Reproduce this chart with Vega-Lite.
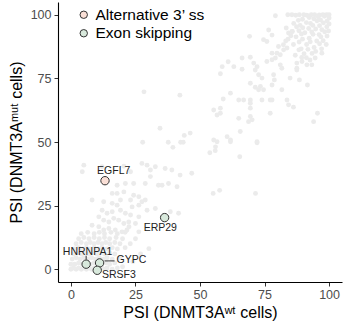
{
  "$schema": "https://vega.github.io/schema/vega-lite/v6.json",
  "width": 284,
  "height": 280,
  "autosize": {"type": "none"},
  "padding": {"left": 58, "top": 2, "right": 2, "bottom": 43},
  "background": "white",
  "config": {
    "view": {"stroke": null},
    "font": "Liberation Sans",
    "axis": {
      "grid": false,
      "domainColor": "#000000",
      "domainWidth": 1.1,
      "tickColor": "#333333",
      "tickSize": 4,
      "labelColor": "#4d4d4d",
      "labelFontSize": 12.5,
      "labelFont": "Liberation Sans",
      "titleFont": "Liberation Sans",
      "titleFontSize": 16,
      "titleFontWeight": "normal",
      "titleColor": "#000000"
    }
  },
  "datasets": {
    "bg": [
      {"x":0,"y":0},{"x":1,"y":0.5},{"x":2,"y":0},{"x":3,"y":0.5},{"x":4,"y":0},{"x":5,"y":0.5},{"x":6,"y":0},{"x":7,"y":0.5},{"x":8,"y":0},{"x":9,"y":0.5},{"x":11,"y":0},{"x":12,"y":0.5},{"x":13,"y":0},{"x":14,"y":0.5},{"x":16,"y":0},{"x":18,"y":0.5},
      {"x":0,"y":2},{"x":1.5,"y":2},{"x":3,"y":2.5},{"x":4.5,"y":2},{"x":6,"y":2.5},{"x":7.5,"y":2},{"x":9,"y":2.5},{"x":12,"y":2},{"x":13.5,"y":2.5},{"x":15,"y":2},{"x":17,"y":2.5},
      {"x":0.5,"y":4},{"x":2,"y":4.5},{"x":3.5,"y":4},{"x":5,"y":4.5},{"x":6.5,"y":4},{"x":8,"y":4.5},{"x":9.5,"y":4},{"x":11,"y":4.5},{"x":12.5,"y":4},{"x":14,"y":4.5},{"x":16,"y":4},{"x":19,"y":4.5},
      {"x":1,"y":6},{"x":2.5,"y":6.5},{"x":4,"y":6},{"x":5.5,"y":6.5},{"x":7,"y":6},{"x":8.5,"y":6.5},{"x":10,"y":6},{"x":11.5,"y":6.5},{"x":13,"y":6},{"x":15,"y":6.5},{"x":17,"y":6},
      {"x":1.5,"y":8},{"x":3,"y":8.5},{"x":4.5,"y":8},{"x":6,"y":8.5},{"x":7.5,"y":8},{"x":9,"y":8.5},{"x":10.5,"y":8},{"x":12,"y":8.5},{"x":14,"y":8},{"x":16,"y":8.5},{"x":18,"y":8},{"x":21,"y":8.5},
      {"x":2,"y":10},{"x":4,"y":10.5},{"x":6,"y":10},{"x":7.5,"y":10.5},{"x":9,"y":10},{"x":10.5,"y":10.5},{"x":12,"y":10},{"x":13.5,"y":10.5},{"x":15,"y":10},{"x":17,"y":10.5},{"x":19,"y":10},
      {"x":3,"y":12},{"x":5,"y":12.5},{"x":7,"y":12},{"x":9,"y":12.5},{"x":11,"y":12},{"x":13,"y":12.5},{"x":15,"y":12},{"x":17.5,"y":12.5},{"x":20,"y":12},
      {"x":4,"y":14},{"x":6.5,"y":14.5},{"x":9,"y":14},{"x":11,"y":14.5},{"x":13,"y":14},{"x":15.5,"y":14.5},{"x":18,"y":14},{"x":21,"y":14.5},
      {"x":22.5,"y":16.7},{"x":30.2,"y":8.1},{"x":25,"y":12},{"x":23,"y":10},{"x":24,"y":3},{"x":20,"y":1},{"x":27,"y":6},
      {"x":4.4,"y":38.3},{"x":5,"y":40.9},{"x":12.1,"y":40.3},{"x":20.5,"y":40.5},{"x":23.1,"y":38.3},{"x":27.5,"y":41.6},{"x":29.5,"y":40.9},{"x":30.8,"y":39},{"x":32.7,"y":40.3},{"x":30.8,"y":36.4},{"x":36.5,"y":39.6},{"x":39.1,"y":39},{"x":42.3,"y":37},{"x":46.8,"y":37.7},{"x":35.3,"y":33},{"x":37.8,"y":33.7},{"x":41.1,"y":32.4},{"x":17.9,"y":33},{"x":21.1,"y":33.7},{"x":24.3,"y":33.7},{"x":28.8,"y":33.7},{"x":33.9,"y":33},{"x":16,"y":29.8},{"x":17.9,"y":29.8},{"x":20.5,"y":30.4},{"x":24.3,"y":29.1},{"x":26.3,"y":28.5},{"x":27.5,"y":26.5},{"x":28.8,"y":27.2},{"x":8.2,"y":27.2},{"x":12.7,"y":26.5},{"x":16,"y":25.9},{"x":17.9,"y":25.2},{"x":19.2,"y":27.2},{"x":23.1,"y":27.2},{"x":23.7,"y":24.5},{"x":26.3,"y":25.2},{"x":29.5,"y":23.2},{"x":32.7,"y":23.9},{"x":38.5,"y":22.6},{"x":41.7,"y":22},{"x":12.1,"y":23.2},{"x":14,"y":22},{"x":16,"y":22.6},{"x":19.2,"y":23.2},{"x":21.1,"y":22},{"x":23.1,"y":21.3},{"x":26.3,"y":20.6},{"x":10.8,"y":20.6},{"x":12.7,"y":19.3},{"x":14.7,"y":18.6},{"x":16.6,"y":20},{"x":18.5,"y":19.3},{"x":20.5,"y":18},{"x":22.4,"y":18.6},{"x":25,"y":18},{"x":8.2,"y":17.3},{"x":10.8,"y":16.7},{"x":12.7,"y":15.4},{"x":14.7,"y":16},{"x":17.2,"y":15.4},{"x":19.8,"y":14.7},{"x":21.7,"y":15.4},{"x":26.3,"y":14.7},
      {"x":28.3,"y":69.7},{"x":42.2,"y":68.4},{"x":34.5,"y":55.4},{"x":27.8,"y":49.9},{"x":37.7,"y":49.9},{"x":39.5,"y":47.9},{"x":42.5,"y":49.9},{"x":43.5,"y":49.9},{"x":43.9,"y":52.6},{"x":46.2,"y":53.5},{"x":53.8,"y":45.8},{"x":55.9,"y":46.6},{"x":65.4,"y":44.2},{"x":55.1,"y":29.8},{"x":57.6,"y":31},{"x":71.5,"y":29.8},{"x":55.3,"y":50.8},{"x":61.8,"y":50.8},{"x":72.1,"y":49.7},
      {"x":79.2,"y":99.6},{"x":69.2,"y":91.5},{"x":76.6,"y":94},{"x":77.9,"y":92},{"x":74.6,"y":90.2},{"x":75.9,"y":89.5},{"x":83.4,"y":94.8},{"x":84.3,"y":92.8},{"x":85.6,"y":93.4},{"x":80.4,"y":87.5},{"x":82.4,"y":86.2},{"x":83.7,"y":86.9},{"x":77.9,"y":84.9},{"x":79.8,"y":84.9},{"x":81.1,"y":84.3},{"x":97.2,"y":84.9},{"x":94.6,"y":83},{"x":60.9,"y":81.5},{"x":58.6,"y":79.6},{"x":63.1,"y":79.6},{"x":66.3,"y":78.6},{"x":66.3,"y":83},{"x":69.5,"y":83.3},{"x":70.8,"y":81},{"x":72.1,"y":79.6},{"x":71.4,"y":78.3},{"x":75.9,"y":81.6},{"x":77.9,"y":82.3},{"x":79.2,"y":83},{"x":81.1,"y":80.3},{"x":81.7,"y":79},{"x":87.5,"y":81},{"x":87.5,"y":79},{"x":87.5,"y":78.3},{"x":89.5,"y":81.6},{"x":91.4,"y":80.3},{"x":93.3,"y":80.3},{"x":57.9,"y":76.8},{"x":72.7,"y":76.4},{"x":74,"y":75.1},{"x":78.5,"y":76.4},{"x":78.8,"y":74.4},{"x":84.9,"y":75.1},{"x":88.5,"y":74.4},{"x":69.5,"y":73.1},{"x":71.4,"y":71.5},{"x":73.4,"y":71.8},{"x":74.6,"y":70.5},{"x":72.7,"y":70.5},{"x":77.9,"y":72.4},{"x":81.7,"y":70.5},{"x":91.6,"y":72.4},{"x":59,"y":66.9},{"x":61.8,"y":69.2},{"x":65,"y":66.5},{"x":66.9,"y":66.5},{"x":69.5,"y":66.5},{"x":69.5,"y":65.2},{"x":74,"y":66.5},{"x":77.2,"y":66.5},{"x":77.9,"y":66.5},{"x":83.7,"y":66.5},{"x":84.3,"y":64.6},{"x":86.2,"y":63.7},{"x":69.5,"y":63.3},{"x":55.3,"y":62.6},{"x":57.9,"y":63.3},{"x":57.9,"y":61.3},{"x":56.6,"y":60.6},{"x":77.2,"y":61.3},{"x":95.5,"y":61.3},{"x":94,"y":58},{"x":65,"y":59.3},{"x":69.5,"y":60},{"x":70.2,"y":58.7},{"x":65.6,"y":54.1},{"x":60.5,"y":52.1},{"x":61.8,"y":50.1},{"x":56.6,"y":50.1},{"x":56,"y":48.1},{"x":72.1,"y":50.1},{"x":68.8,"y":58},
      {"x":84,"y":100},{"x":85.6,"y":100},{"x":87.1,"y":99.8},{"x":88.5,"y":100},{"x":90.2,"y":100},{"x":91.4,"y":99.8},{"x":93.1,"y":100},{"x":94.4,"y":100},{"x":96.2,"y":99.9},{"x":97.6,"y":100},{"x":99,"y":100},{"x":100,"y":100},
      {"x":86.3,"y":96.6},{"x":88.1,"y":97.8},{"x":89.7,"y":98.2},{"x":92.3,"y":98.9},{"x":94.1,"y":98.4},{"x":95.8,"y":99.2},{"x":98.2,"y":99.4},{"x":100,"y":98.7},
      {"x":87.4,"y":95.3},{"x":88.8,"y":95.8},{"x":91.2,"y":96.9},{"x":92.8,"y":96.6},{"x":95.3,"y":97.6},{"x":96.7,"y":97.9},{"x":99.2,"y":97.5},
      {"x":85.8,"y":93.4},{"x":88.3,"y":93.7},{"x":89.8,"y":94.9},{"x":92.1,"y":94.6},{"x":93.7,"y":95.8},{"x":96.3,"y":95.7},{"x":97.8,"y":96.8},{"x":100,"y":96.4},
      {"x":87.2,"y":91.3},{"x":89.3,"y":92.4},{"x":90.6,"y":92.9},{"x":93.3,"y":93.2},{"x":94.8,"y":94.4},{"x":97.2,"y":94.1},{"x":99.1,"y":95.3},
      {"x":88.4,"y":89.3},{"x":89.7,"y":90.4},{"x":92.3,"y":90.8},{"x":93.8,"y":92.3},{"x":96.1,"y":92.2},{"x":98.3,"y":93.3},{"x":99.8,"y":93.6},
      {"x":89.2,"y":86.6},{"x":91.3,"y":88.3},{"x":92.7,"y":89.4},{"x":95.2,"y":89.7},{"x":96.8,"y":91.3},{"x":99.2,"y":91.6},
      {"x":90.3,"y":84.7},{"x":91.8,"y":86.4},{"x":94.2,"y":87.1},{"x":96.3,"y":88.6},{"x":97.7,"y":89.8},
      {"x":91.2,"y":83.1},{"x":93.4,"y":84.8},{"x":94.8,"y":85.6},{"x":97.1,"y":86.6},{"x":98.9,"y":88.3},
      {"x":88.3,"y":86.2},{"x":86.2,"y":88.3},{"x":84.1,"y":90.4},{"x":85.2,"y":91.7},{"x":82.3,"y":88.2},{"x":83.2,"y":89.7},{"x":86.9,"y":84.1},{"x":89.4,"y":83.2},{"x":92.6,"y":82.2}
    ],
    "hl": [
      {"gene":"EGFL7","x":13.2,"y":34.8,"type":"Alternative 3’ ss"},
      {"gene":"ERP29","x":36.3,"y":20.3,"type":"Exon skipping"},
      {"gene":"HNRNPA1","x":5.9,"y":2,"type":"Exon skipping"},
      {"gene":"GYPC","x":11.1,"y":2.5,"type":"Exon skipping"},
      {"gene":"SRSF3","x":10.2,"y":-0.4,"type":"Exon skipping"}
    ]
  },
  "encoding": {
    "x": {"field": "x", "type": "quantitative", "scale": {"domain": [-5, 105], "nice": false, "zero": false},
      "axis": {"values": [0, 25, 50, 75, 100], "title": "PSI (DNMT3Aʷᵗ cells)", "labelPadding": 2, "titlePadding": 4}},
    "y": {"field": "y", "type": "quantitative", "scale": {"domain": [-5, 105], "nice": false, "zero": false},
      "axis": {"values": [0, 25, 50, 75, 100], "title": "PSI (DNMT3Aᵐᵘᵗ cells)", "labelPadding": 3, "titlePadding": 6}}
  },
  "layer": [
    {
      "data": {"name": "bg"},
      "mark": {"type": "circle", "color": "#ebebeb", "opacity": 1, "size": 24}
    },
    {
      "data": {"name": "hl"},
      "transform": [{"filter": "datum.gene === 'HNRNPA1'"}],
      "mark": {"type": "rule", "color": "#333333", "strokeWidth": 1, "yOffset": -4.5, "y2Offset": -8.5},
      "encoding": {"y2": {"field": "y"}}
    },
    {
      "data": {"name": "hl"},
      "transform": [{"filter": "datum.gene === 'GYPC'"}],
      "mark": {"type": "rule", "color": "#333333", "strokeWidth": 1, "xOffset": 5, "x2Offset": 15, "yOffset": -2, "y2Offset": -2},
      "encoding": {"x2": {"field": "x"}}
    },
    {
      "data": {"name": "hl"},
      "mark": {"type": "point", "shape": "circle", "filled": true, "size": 70, "stroke": "#333333", "strokeWidth": 1, "opacity": 1},
      "encoding": {
        "fill": {"field": "type", "type": "nominal",
          "scale": {"domain": ["Alternative 3’ ss", "Exon skipping"], "range": ["#fadfd6", "#d8e9dc"]},
          "legend": {"title": null, "orient": "none", "legendX": 18, "legendY": 5, "padding": 0,
            "symbolType": "circle", "symbolSize": 55, "symbolStrokeColor": "#333333", "symbolStrokeWidth": 1,
            "symbolOpacity": 1, "labelFontSize": 15.5, "labelColor": "#000000", "labelOffset": 4, "rowPadding": 1.5, "labelFont": "Liberation Sans"}}
      }
    },
    {
      "data": {"name": "hl"},
      "transform": [{"filter": "datum.gene === 'EGFL7'"}],
      "mark": {"type": "text", "fontSize": 10.5, "color": "#222222", "align": "center", "baseline": "middle", "dx": 8.7, "dy": -10},
      "encoding": {"text": {"field": "gene"}}
    },
    {
      "data": {"name": "hl"},
      "transform": [{"filter": "datum.gene === 'ERP29'"}],
      "mark": {"type": "text", "fontSize": 10.5, "color": "#222222", "align": "center", "baseline": "middle", "dx": -4.3, "dy": 10.4},
      "encoding": {"text": {"field": "gene"}}
    },
    {
      "data": {"name": "hl"},
      "transform": [{"filter": "datum.gene === 'HNRNPA1'"}],
      "mark": {"type": "text", "fontSize": 10.5, "color": "#222222", "align": "center", "baseline": "middle", "dx": 1.4, "dy": -12.5},
      "encoding": {"text": {"field": "gene"}}
    },
    {
      "data": {"name": "hl"},
      "transform": [{"filter": "datum.gene === 'GYPC'"}],
      "mark": {"type": "text", "fontSize": 10.5, "color": "#222222", "align": "left", "baseline": "middle", "dx": 17, "dy": -2.7},
      "encoding": {"text": {"field": "gene"}}
    },
    {
      "data": {"name": "hl"},
      "transform": [{"filter": "datum.gene === 'SRSF3'"}],
      "mark": {"type": "text", "fontSize": 10.5, "color": "#222222", "align": "left", "baseline": "middle", "dx": 4.7, "dy": 4.3},
      "encoding": {"text": {"field": "gene"}}
    }
  ]
}
